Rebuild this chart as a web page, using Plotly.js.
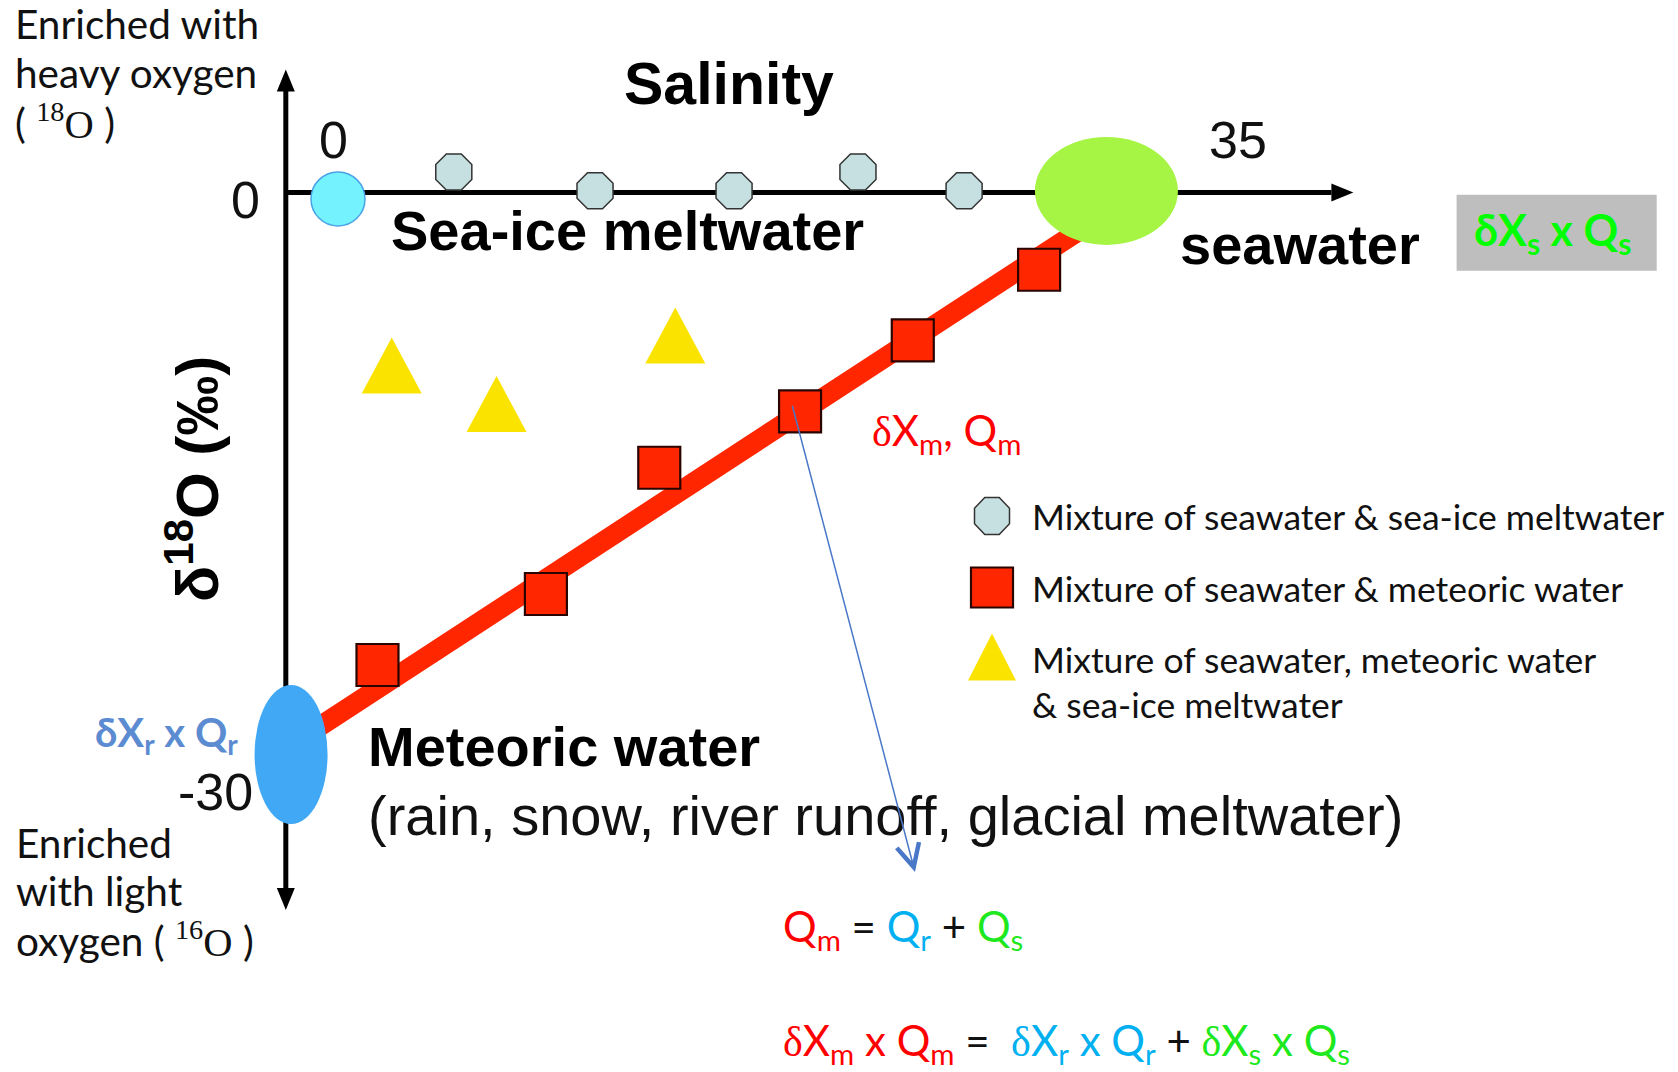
<!DOCTYPE html>
<html><head><meta charset="utf-8">
<script src="https://cdn.plot.ly/plotly-3.0.1.min.js"></script>
<style>html,body{margin:0;padding:0;background:#fff;overflow:hidden;}</style>
</head><body><div id="chart" style="width:1678px;height:1072px;"></div>
<script>
// ---------------- data ----------------
const endMemberNames     = ['Sea-ice meltwater', 'Seawater', 'Meteoric water'];
const endMemberSalinity  = [0, 35.04, -2.14];
const endMemberD18O      = [-0.34, 0.09, -30];

const seaIceMixSalinity  = [5.28, 11.72, 18.06, 23.71, 28.55];
const seaIceMixD18O      = [1.1, 0.1, 0.1, 1.1, 0.1];

const meteoricMixSalinity = [1.80, 9.48, 14.65, 21.07, 26.21, 31.97];
const meteoricMixD18O     = [-25.22, -21.43, -14.69, -11.68, -7.89, -4.12];

const threeWayMixSalinity = [2.45, 7.23, 15.38];
const threeWayMixD18O     = [-9.23, -11.29, -7.63];

const mixingLineSalinity  = [-1.6, 34.3];
const mixingLineD18O      = [-29.09, -1.65];

const pointerFrom = [20.70, -11.30];
const pointerTo   = [26.31, -36.27];

const salinityTickLabels = ['0', '35'];
const d18OTickLabels     = ['0', '-30'];
const legendLabels = [
  'Mixture of seawater & sea-ice meltwater',
  'Mixture of seawater & meteoric water',
  'Mixture of seawater, meteoric water',
  '& sea-ice meltwater'
];

// ---------------- layout helpers ----------------
const W = 1678, H = 1072;
const X_RANGE = [-15.413, 61.104];
const Y_RANGE = [-46.951, 10.283];
const AXIS_SAL = -2.38, AXIS_TOP = 6.57, AXIS_BOTTOM = -38.3, AXIS_RIGHT = 46.3;
const px = x => x / W;
const py = y => 1 - y / H;
const SANS = 'Liberation Sans, Arial, sans-serif';
const HUM = 'Lato, Noto Sans, sans-serif';
const SERIF = 'Liberation Serif';

function octPath(hw, hh) {
  const bx = hw * 0.413, by = hh * 0.413;
  return `M${-bx},${-hh} L${bx},${-hh} L${hw},${-by} L${hw},${by} L${bx},${hh} L${-bx},${hh} L${-hw},${by} L${-hw},${-by} Z`;
}

function note(text, x, y, size, opts) {
  return Object.assign({
    text: text, xref: 'paper', yref: 'paper', x: px(x), y: py(y),
    xanchor: 'left', yanchor: 'middle', showarrow: false, align: 'left',
    font: {family: HUM, size: size, color: '#111'}
  }, opts || {});
}

// ---------------- traces ----------------
const traces = [
  {type: 'scatter', mode: 'lines', x: mixingLineSalinity, y: mixingLineD18O,
   line: {color: '#ff2600', width: 20}, hoverinfo: 'skip'},
  {type: 'scatter', mode: 'markers', x: seaIceMixSalinity, y: seaIceMixD18O,
   marker: {symbol: 'octagon', size: 39, color: '#c6e0e2', line: {color: '#333', width: 1.5}}},
  {type: 'scatter', mode: 'markers', x: meteoricMixSalinity, y: meteoricMixD18O,
   marker: {symbol: 'square', size: 42, color: '#ff2600', line: {color: '#2a0500', width: 2.2}}}
];

// ---------------- shapes ----------------
const shapes = [];
shapes.push({type: 'line', xref: 'x', yref: 'y', x0: AXIS_SAL, x1: AXIS_SAL, y0: AXIS_BOTTOM + 1, y1: AXIS_TOP - 1,
  line: {color: '#000', width: 5}, layer: 'below'});
shapes.push({type: 'line', xref: 'x', yref: 'y', x0: AXIS_SAL, x1: AXIS_RIGHT - 1, y0: 0, y1: 0,
  line: {color: '#000', width: 5}, layer: 'below'});
const headBase = {type: 'path', xref: 'x', yref: 'y', xsizemode: 'pixel', ysizemode: 'pixel',
  fillcolor: '#000', line: {width: 0}, layer: 'below'};
shapes.push(Object.assign({}, headBase, {xanchor: AXIS_SAL, yanchor: AXIS_TOP, path: 'M-9,-22 L9,-22 L0,0 Z'}));
shapes.push(Object.assign({}, headBase, {xanchor: AXIS_SAL, yanchor: AXIS_BOTTOM, path: 'M-9,22 L9,22 L0,0 Z'}));
shapes.push(Object.assign({}, headBase, {xanchor: AXIS_RIGHT, yanchor: 0, path: 'M-22,-9 L-22,9 L0,0 Z'}));

// end members
const emSize = [[27, 27], [71.5, 54], [36.5, 69.5]];
const emFill = ['#74f2fe', '#a6f443', '#40a8f4'];
const emLine = ['#4aa3e6', '#a6f443', '#40a8f4'];
endMemberSalinity.forEach((s, i) => {
  shapes.push({type: 'circle', xref: 'x', yref: 'y', xsizemode: 'pixel', ysizemode: 'pixel',
    xanchor: s, yanchor: endMemberD18O[i],
    x0: -emSize[i][0], x1: emSize[i][0], y0: -emSize[i][1], y1: emSize[i][1],
    fillcolor: emFill[i], line: {color: emLine[i], width: i === 0 ? 1.5 : 0}, layer: 'above'});
});

// three-way mixtures (tall triangles)
threeWayMixSalinity.forEach((s, i) => {
  shapes.push({type: 'path', xref: 'x', yref: 'y', xsizemode: 'pixel', ysizemode: 'pixel',
    xanchor: s, yanchor: threeWayMixD18O[i], path: 'M-30,-28 L30,-28 L0,28 Z',
    fillcolor: '#fbe300', line: {width: 0}, layer: 'above'});
});

// grey box
shapes.push({type: 'rect', xref: 'paper', yref: 'paper', x0: px(1456.6), x1: px(1656.7), y0: py(270.8), y1: py(194.8),
  fillcolor: '#bebebe', line: {width: 0}, layer: 'below'});

// legend symbols
const legBase = {type: 'path', xref: 'paper', yref: 'paper', xsizemode: 'pixel', ysizemode: 'pixel', layer: 'above'};
shapes.push(Object.assign({}, legBase, {xanchor: px(992), yanchor: py(516), path: octPath(17.5, 18.5),
  fillcolor: '#c6e0e2', line: {color: '#333', width: 1.5}}));
shapes.push(Object.assign({}, legBase, {xanchor: px(992), yanchor: py(587.5), path: 'M-21,-20 L21,-20 L21,20 L-21,20 Z',
  fillcolor: '#ff2600', line: {color: '#2a0500', width: 2.2}}));
shapes.push(Object.assign({}, legBase, {xanchor: px(992), yanchor: py(657), path: 'M-24,-23.5 L24,-23.5 L0,23.5 Z',
  fillcolor: '#fbe300', line: {width: 0}}));

// ---------------- annotations ----------------
const sr = t => `<span style="font-family:${SERIF}">${t}</span>`;
const RED = '#ff0000', BLUE = '#00b0f0', GREEN = '#1ee81e';
const col = (c, t) => `<span style="color:${c}">${t}</span>`;

const annotations = [
  note('Enriched with', 13, 23.5, 40.5),
  note('heavy oxygen', 13, 72.8, 40.5),
  note('( ' + sr('<sup>18</sup>O') + ' )', 13, 121, 40.5),
  note('Salinity', 729, 84.5, 59, {xanchor: 'center', font: {family: SANS, size: 59, color: '#000', weight: 'bold'}}),
  note(salinityTickLabels[0], 333, 140, 52, {xanchor: 'center', font: {family: SANS, size: 52, color: '#111'}}),
  note(salinityTickLabels[1], 1238, 140, 52, {xanchor: 'center', font: {family: SANS, size: 52, color: '#111'}}),
  note(d18OTickLabels[0], 262, 200, 52, {xanchor: 'right', font: {family: SANS, size: 52, color: '#111'}}),
  note(d18OTickLabels[1], 255, 792, 52, {xanchor: 'right', font: {family: SANS, size: 52, color: '#111'}}),
  note('Sea-ice meltwater', 389, 230, 56, {font: {family: SANS, size: 56, color: '#000', weight: 'bold'}}),
  note('seawater', 1178, 244, 56, {font: {family: SANS, size: 56, color: '#000', weight: 'bold'}}),
  note('δX<sub>s</sub> x Q<sub>s</sub>', 1552, 233, 43, {xanchor: 'center', font: {family: HUM, size: 43, color: '#00ff00', weight: 'bold'}}),
  note('δ<sup>18</sup>O (‰)', 192.6, 479.5, 60, {xanchor: 'center', textangle: -90, font: {family: SANS, size: 60, color: '#000', weight: 'bold'}}),
  note(sr('δ') + 'X<sub>m</sub>, Q<sub>m</sub>', 870, 433, 42, {font: {family: HUM, size: 42, color: RED}}),
  note(legendLabels[0], 1030, 516, 35.5),
  note(legendLabels[1], 1030, 588.6, 35.5),
  note(legendLabels[2], 1030, 660, 35.5),
  note(legendLabels[3], 1030, 704, 35.5),
  note('Meteoric water', 366, 746, 56, {font: {family: SANS, size: 56, color: '#000', weight: 'bold'}}),
  note('(rain, snow, river runoff, glacial meltwater)', 366, 815.5, 56, {font: {family: SANS, size: 56, color: '#111'}}),
  note('Enriched', 14, 842, 40.5),
  note('with light', 14, 890, 40.5),
  note('oxygen ( ' + sr('<sup>16</sup>O') + ' )', 14, 939.6, 40.5),
  note('δX<sub>r</sub> x Q<sub>r</sub>', 93, 734, 40, {font: {family: HUM, size: 40, color: '#5b8bd0', weight: 'bold'}}),
  note(col(RED, 'Q<sub>m</sub>') + ' = ' + col(BLUE, 'Q<sub>r</sub>') + ' + ' + col(GREEN, 'Q<sub>s</sub>'), 781, 929, 42),
  note(col(RED, sr('δ') + 'X<sub>m</sub> x Q<sub>m</sub>') + ' =  ' + col(BLUE, sr('δ') + 'X<sub>r</sub> x Q<sub>r</sub>') + ' + ' +
       col(GREEN, sr('δ') + 'X<sub>s</sub> x Q<sub>s</sub>'), 781, 1043, 42),
  {xref: 'x', yref: 'y', axref: 'x', ayref: 'y', x: pointerTo[0], y: pointerTo[1], ax: pointerFrom[0], ay: pointerFrom[1],
   text: '', showarrow: true, arrowhead: 5, arrowsize: 3, arrowwidth: 1.5, arrowcolor: '#4a78c8', standoff: 0}
];

const layout = {
  width: W, height: H, margin: {l: 0, r: 0, t: 0, b: 0},
  paper_bgcolor: '#fff', plot_bgcolor: '#fff', showlegend: false,
  xaxis: {range: X_RANGE, visible: false, fixedrange: true},
  yaxis: {range: Y_RANGE, visible: false, fixedrange: true},
  shapes: shapes, annotations: annotations
};

Plotly.newPlot('chart', traces, layout, {displayModeBar: false, staticPlot: true});
</script></body></html>
